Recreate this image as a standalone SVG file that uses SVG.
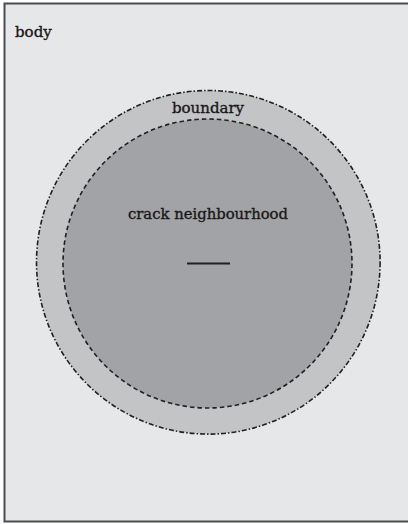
<svg xmlns="http://www.w3.org/2000/svg" width="408" height="524" viewBox="0 0 408 524">
<style>
text{font-family:"DejaVu Serif","Liberation Serif",serif;fill:#1a1718;stroke:#1a1718;stroke-width:0.35}
.c{stroke:#231f20;stroke-width:1.6}
</style>
<g id="body">
<rect x="4.5" y="3.5" width="406" height="518" fill="#e6e7e8" stroke="#4d4d4f" stroke-width="2"/>
<text x="15" y="37" font-size="15">body</text>
</g>
<g id="boundary">
<circle class="c" cx="208.3" cy="262.3" r="171.8" fill="#c3c4c6" stroke-dasharray="5 2 1.5 2"/>
<text x="208" y="113" font-size="15" text-anchor="middle">boundary</text>
</g>
<g id="crack-neighbourhood">
<circle class="c" cx="207.5" cy="263.5" r="144.5" fill="#a2a3a6" stroke-dasharray="4.5 3"/>
<text x="208" y="219" font-size="15" text-anchor="middle" textLength="160" lengthAdjust="spacingAndGlyphs">crack neighbourhood</text>
</g>
<g id="crack">
<line x1="187" y1="263.5" x2="230" y2="263.5" stroke="#231f20" stroke-width="2"/>
</g>
</svg>
